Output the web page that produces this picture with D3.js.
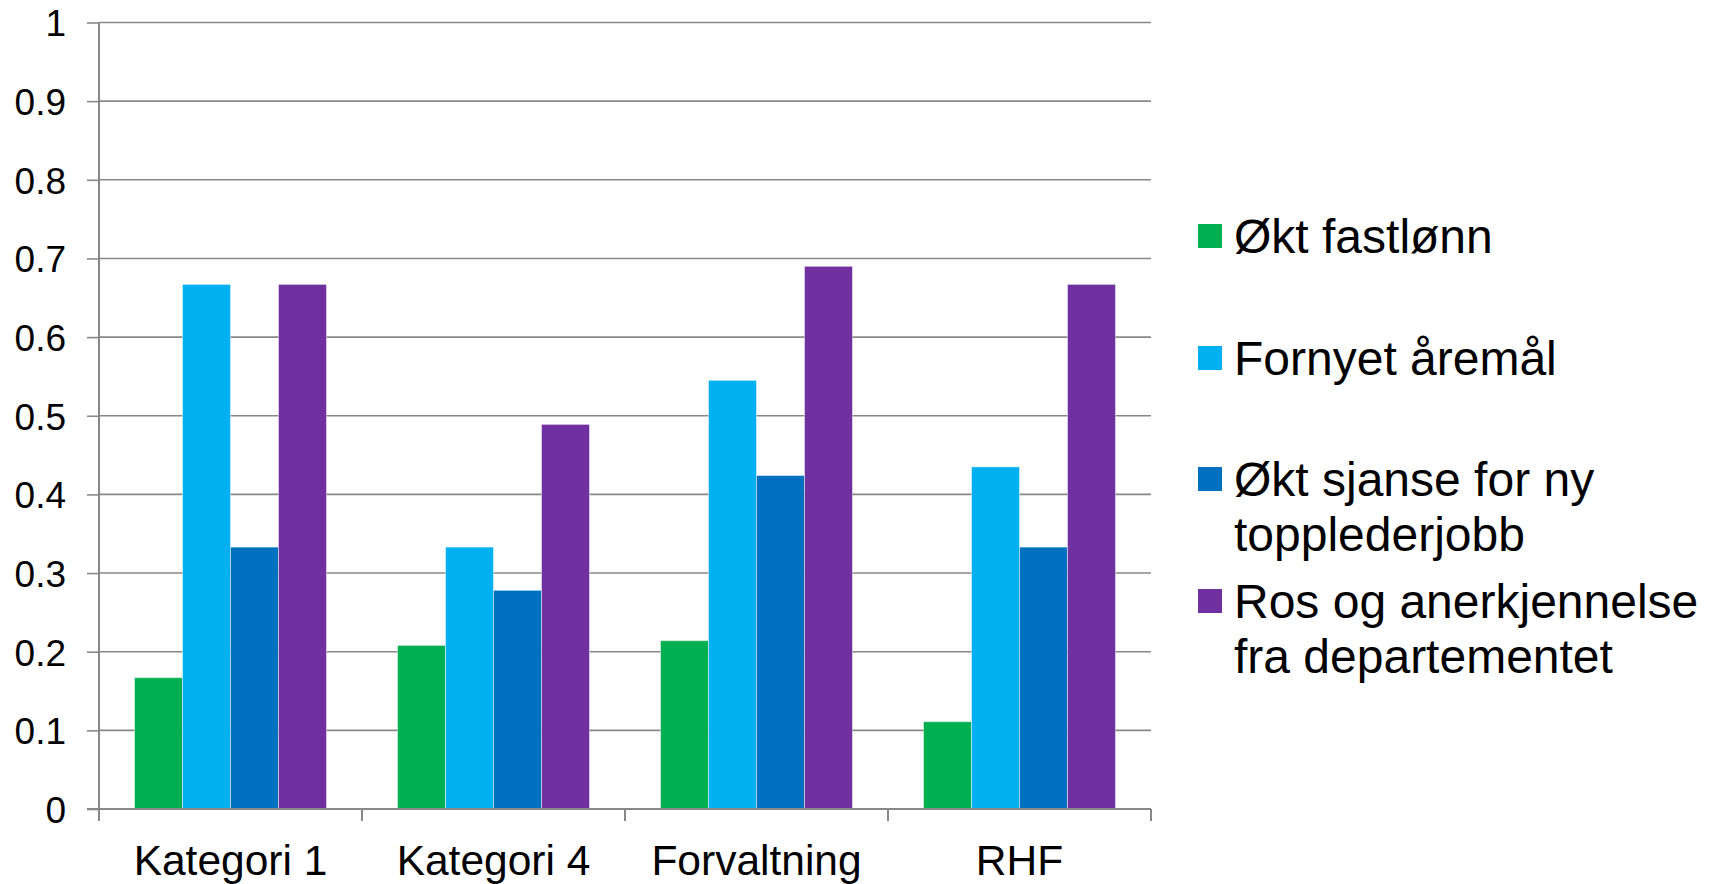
<!DOCTYPE html>
<html>
<head>
<meta charset="utf-8">
<script src="https://cdn.jsdelivr.net/npm/d3@7"></script>
<style>
  html, body { margin: 0; padding: 0; background: #fff; }
  svg { display: block; font-family: "Liberation Sans", Arial, sans-serif; }
</style>
</head>
<body>
<svg id="chart" width="1716" height="884"></svg>
<script>
const categories = ["Kategori 1", "Kategori 4", "Forvaltning", "RHF"];
const seriesNames = ["Økt fastlønn", "Fornyet åremål", "Økt sjanse for ny topplederjobb", "Ros og anerkjennelse fra departementet"];
const legendLines = [["Økt fastlønn"], ["Fornyet åremål"], ["Økt sjanse for ny", "topplederjobb"], ["Ros og anerkjennelse", "fra departementet"]];
const seriesColors = ["#00B050", "#00B0F0", "#0070C0", "#7030A0"];
const oktFastlonn = [0.167, 0.208, 0.214, 0.111];
const fornyetAremal = [0.667, 0.333, 0.545, 0.435];
const oktSjanse = [0.333, 0.278, 0.424, 0.333];
const rosOgAnerkjennelse = [0.667, 0.489, 0.690, 0.667];
const yTicks = [0, 0.1, 0.2, 0.3, 0.4, 0.5, 0.6, 0.7, 0.8, 0.9, 1];

const seriesValues = [oktFastlonn, fornyetAremal, oktSjanse, rosOgAnerkjennelse];

const svg = d3.select("#chart");
const plotLeft = 99, plotRight = 1151, plotTop = 22.5, plotBottom = 809;
const gridColor = "#888888";

const x = d3.scaleBand().domain(categories).range([plotLeft, plotRight]).paddingInner(0.27).paddingOuter(0.135);
const xs = d3.scaleBand().domain(d3.range(seriesNames.length)).range([0, x.bandwidth()]).padding(0);
const y = d3.scaleLinear().domain([0, 1]).range([plotBottom, plotTop]);

// gridlines
svg.append("g").selectAll("line").data(yTicks.filter(d => d > 0)).join("line")
  .attr("x1", plotLeft).attr("x2", plotRight)
  .attr("y1", d => y(d)).attr("y2", d => y(d))
  .attr("stroke", gridColor).attr("stroke-width", 1.6);

// bars
const groups = svg.append("g").selectAll("g").data(categories).join("g")
  .attr("transform", d => `translate(${x(d)},0)`);
groups.selectAll("rect").data((c, ci) => seriesValues.map((vals, si) => ({si, v: vals[ci]}))).join("rect")
  .attr("x", d => xs(d.si))
  .attr("width", xs.bandwidth())
  .attr("y", d => y(d.v))
  .attr("height", d => y(0) - y(d.v))
  .attr("fill", d => seriesColors[d.si])
  .attr("stroke", "rgba(255,255,255,0.45)")
  .attr("stroke-width", 1);

// y axis
const yAxis = d3.axisLeft(y).tickValues(yTicks).tickSize(12).tickPadding(21)
  .tickFormat(d => String(+d.toFixed(1)));
const gy = svg.append("g").attr("transform", `translate(${plotLeft},0)`).call(yAxis);
gy.select(".domain").attr("stroke", gridColor).attr("stroke-width", 2).attr("d", `M0,${plotTop}V${plotBottom}`);
gy.selectAll(".tick line").attr("stroke", gridColor).attr("stroke-width", 1.6);
gy.selectAll(".tick text").attr("fill", "#000").attr("font-size", 37)
  .attr("font-family", "Liberation Sans, Arial, sans-serif").attr("dy", "0.36em");

// x axis
const boundaries = categories.map(c => x(c) - x.step() * x.paddingInner() / 2).concat([plotRight]);
const gx = svg.append("g");
gx.append("line").attr("x1", plotLeft - 12).attr("x2", plotRight).attr("y1", plotBottom).attr("y2", plotBottom)
  .attr("stroke", gridColor).attr("stroke-width", 2);
gx.selectAll("line.tk").data(boundaries).join("line").attr("class", "tk")
  .attr("x1", d => d).attr("x2", d => d).attr("y1", plotBottom).attr("y2", plotBottom + 12)
  .attr("stroke", gridColor).attr("stroke-width", 2);
gx.selectAll("text").data(categories).join("text")
  .attr("x", d => x(d) + x.bandwidth() / 2)
  .attr("y", 875)
  .attr("text-anchor", "middle")
  .attr("font-size", 42.5)
  .attr("fill", "#000")
  .text(d => d);

// legend
const legendY = [236, 358, 479, 601];
const lg = svg.append("g").selectAll("g").data(seriesNames).join("g");
lg.append("rect")
  .attr("x", 1198).attr("y", (d, i) => legendY[i] - 12)
  .attr("width", 24).attr("height", 24)
  .attr("fill", (d, i) => seriesColors[i]);
lg.append("text")
  .attr("x", 1234)
  .attr("y", (d, i) => legendY[i] + 16.5)
  .attr("font-size", 48)
  .attr("fill", "#000")
  .each(function(d, i) {
    d3.select(this).selectAll("tspan").data(legendLines[i]).join("tspan")
      .attr("x", 1234)
      .attr("dy", (t, j) => j === 0 ? 0 : 55)
      .text(t => t);
  });
</script>
</body>
</html>
